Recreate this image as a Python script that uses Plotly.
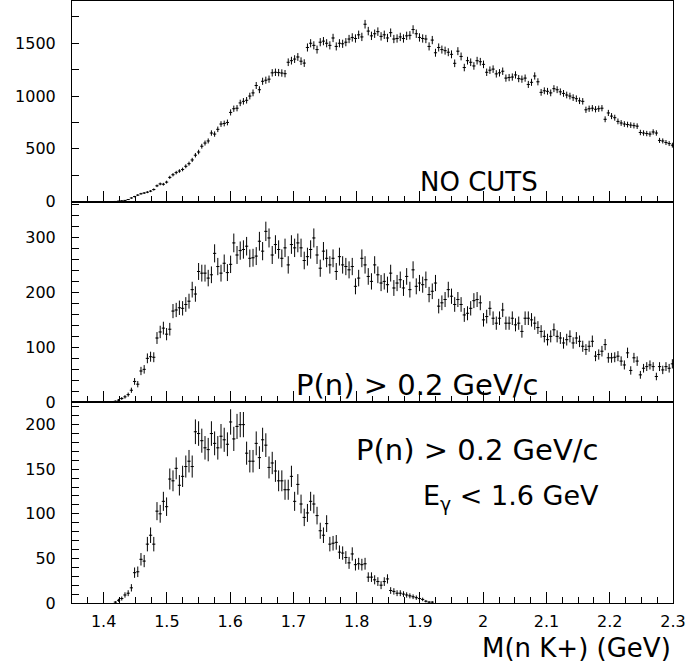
import numpy as np
import plotly.graph_objects as go
from plotly.subplots import make_subplots

# ---- data (counts per bin) ----
BIN_W = 0.00506          # bin width (GeV)
X0 = 1.4135              # centre of first listed bin (GeV)

# Panel 1: NO CUTS
no_cuts = [
    0, 2, 5, 8, 12, 20, 35, 48, 62, 75,
    82, 90, 100, 115, 150, 168, 165, 185, 230, 255,
    275, 290, 305, 335, 360, 395, 440, 470, 525, 555,
    575, 650, 640, 685, 735, 740, 750, 845, 880, 885,
    935, 950, 960, 1000, 1030, 1100, 1060, 1140, 1150, 1160,
    1220, 1225, 1222, 1218, 1212, 1320, 1335, 1350, 1370, 1330,
    1312, 1460, 1500, 1480, 1440, 1510, 1520, 1500, 1480, 1550,
    1470, 1500, 1495, 1510, 1540, 1555, 1545, 1580, 1560, 1680,
    1615, 1570, 1590, 1610, 1565, 1580, 1550, 1600, 1540, 1545,
    1560, 1545, 1570, 1575, 1630, 1590, 1555, 1545, 1540, 1470,
    1530, 1410, 1460, 1440, 1430, 1415, 1395, 1310, 1425, 1375,
    1270, 1335, 1320, 1285, 1335, 1325, 1300, 1225, 1245, 1255,
    1210, 1220, 1235, 1170, 1175, 1180, 1200, 1165, 1160, 1170,
    1110, 1130, 1190, 1135, 1035, 1050, 1045, 1030, 1070, 1060,
    1040, 1025, 1010, 1000, 985, 975, 955, 950, 870, 880,
    885, 875, 880, 885, 780, 840, 810, 795, 760, 745,
    735, 730, 725, 720, 715, 655, 650, 645, 640, 660,
    650, 580, 575, 560, 550, 535,
]

# Panel 2: P(n) > 0.2 GeV/c
pn_cut = [
    0, 2, 4, 7, 10, 14, 22, 38, 33, 57,
    60, 80, 83, 82, 117, 128, 135, 124, 133, 166,
    168, 172, 171, 178, 184, 205, 197, 238, 235, 235,
    226, 232, 271, 247, 235, 253, 236, 251, 290, 268,
    276, 278, 284, 262, 263, 266, 293, 275, 311, 299,
    268, 287, 278, 262, 281, 250, 287, 281, 290, 281,
    258, 265, 278, 299, 268, 244, 275, 262, 250, 262,
    238, 265, 250, 247, 241, 247, 211, 226, 262, 250,
    229, 220, 250, 232, 217, 220, 214, 235, 208, 217,
    223, 208, 229, 205, 241, 211, 217, 214, 223, 196,
    202, 217, 175, 181, 187, 205, 193, 178, 187, 178,
    159, 162, 171, 185, 187, 181, 150, 156, 171, 153,
    144, 153, 168, 144, 144, 153, 141, 144, 129, 153,
    153, 150, 144, 136, 129, 120, 114, 120, 132, 120,
    117, 108, 114, 120, 108, 117, 111, 102, 96, 102,
    111, 84, 87, 93, 105, 81, 81, 82, 84, 75,
    68, 90, 58, 81, 75, 50, 62, 65, 68, 65,
    47, 65, 59, 65, 62, 70,
]

# Panel 3: P(n) > 0.2 GeV/c and E_gamma < 1.6 GeV
pn_eg_cut = [
    0, 1, 3, 5, 9, 11, 17, 34, 35, 49,
    47, 66, 76, 66, 103, 100, 114, 108, 139, 137,
    151, 132, 142, 153, 159, 153, 192, 190, 182, 174,
    172, 190, 179, 174, 187, 183, 178, 203, 184, 198,
    200, 200, 168, 159, 159, 179, 163, 183, 177, 152,
    157, 148, 137, 137, 127, 127, 142, 114, 133, 111,
    96, 101, 114, 111, 98, 81, 76, 89, 66, 67,
    68, 57, 56, 51, 45, 55, 43, 44, 43, 44,
    29, 29, 26, 24, 20, 24, 27, 14, 13, 11,
    11, 10, 9, 8, 7, 6, 5, 4, 2, 1,
    1,
]

x_ticks = [1.4, 1.5, 1.6, 1.7, 1.8, 1.9, 2.0, 2.1, 2.2, 2.3]
x_tick_text = ["1.4", "1.5", "1.6", "1.7", "1.8", "1.9", "2", "2.1", "2.2", "2.3"]

panels = [
    dict(vals=no_cuts, yrange=[0, 1900], yticks=[0, 500, 1000, 1500], minor=250),
    dict(vals=pn_cut, yrange=[0, 365], yticks=[0, 100, 200, 300], minor=20),
    dict(vals=pn_eg_cut, yrange=[0, 225], yticks=[0, 50, 100, 150, 200], minor=10),
]

FONT = "DejaVu Sans"

fig = make_subplots(rows=3, cols=1, shared_xaxes=True, vertical_spacing=0)

for i, p in enumerate(panels, start=1):
    v = np.array(p["vals"], dtype=float)
    xc = X0 + BIN_W * np.arange(len(v))
    m = v > 0
    fig.add_trace(
        go.Scatter(
            x=xc[m], y=v[m], mode="markers",
            marker=dict(size=1, color="black"),
            error_y=dict(type="data", array=np.sqrt(v[m]), width=0,
                         thickness=1, color="black"),
            error_x=dict(type="constant", value=BIN_W / 2, width=0,
                         thickness=1, color="black"),
            hoverinfo="skip",
        ),
        row=i, col=1,
    )
    fig.update_yaxes(
        range=p["yrange"], tickmode="array", tickvals=p["yticks"],
        ticks="inside", ticklen=7, tickwidth=1, tickcolor="black",
        minor=dict(tickmode="linear", tick0=0, dtick=p["minor"],
                   ticks="inside", ticklen=7, tickwidth=1, tickcolor="black"),
        showline=True, linecolor="black", linewidth=1, mirror=True,
        showgrid=False, zeroline=False,
        tickfont=dict(family=FONT, size=16, color="black"),
        ticklabelstandoff=12,
        row=i, col=1,
    )
    fig.update_xaxes(
        range=[1.35, 2.3], tickmode="array", tickvals=x_ticks, ticktext=x_tick_text,
        ticks="inside", ticklen=11, tickwidth=1, tickcolor="black",
        minor=dict(tickmode="linear", tick0=1.35, dtick=0.025,
                   ticks="inside", ticklen=6, tickwidth=1, tickcolor="black"),
        showline=True, linecolor="black", linewidth=1, mirror=True,
        showgrid=False, zeroline=False,
        tickfont=dict(family=FONT, size=16, color="black"),
        ticklabelstandoff=4,
        row=i, col=1,
    )

ann_font = dict(family=FONT, color="black")
annotations = [
    dict(text="NO CUTS", x=0.575, y=0.6993, xanchor="left", yanchor="middle",
         font=dict(size=26, **ann_font)),
    dict(text="P(n) &gt; 0.2 GeV/c", x=0.3700, y=0.3621, xanchor="left", yanchor="middle",
         font=dict(size=29, **ann_font)),
    dict(text="P(n) &gt; 0.2 GeV/c", x=0.4700, y=0.2542, xanchor="left", yanchor="middle",
         font=dict(size=29, **ann_font)),
    dict(text="E<sub>γ</sub> &lt; 1.6 GeV", x=0.5800, y=0.1760, xanchor="left", yanchor="middle",
         font=dict(size=27, **ann_font)),
    dict(text="M(n K+) (GeV)", x=1.0, y=-0.074, xanchor="right", yanchor="middle",
         font=dict(size=26, **ann_font)),
]
for a in annotations:
    fig.add_annotation(xref="paper", yref="paper", showarrow=False, **a)

fig.update_layout(
    width=689, height=670,
    margin=dict(l=72, r=16, t=1, b=67),
    plot_bgcolor="white", paper_bgcolor="white",
    showlegend=False,
)

fig.write_html(
    "out.html",
    config={"displayModeBar": False},
    post_script="document.body.style.margin='0';document.body.style.overflow='hidden';",
)
